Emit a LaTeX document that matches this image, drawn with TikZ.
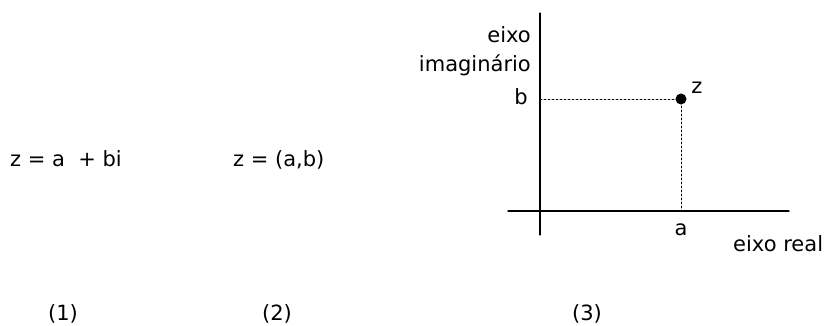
\documentclass[tikz,border=0pt]{standalone}
\usepackage{fontspec}
\setmainfont{DejaVu Sans}
\usetikzlibrary{arrows.meta}
\tikzset{
  every picture/.style={line join=round, line cap=round},
  eixo/.style={line width=1.3pt},
  guia/.style={line width=0.6pt, dash pattern=on 2pt off 2pt},
  rot/.style={font=\fontsize{21}{24}\selectfont, inner sep=0pt},
}

\begin{document}
\begin{tikzpicture}[x=1pt,y=-1pt]
\useasboundingbox (0,0) rectangle (829,326);
% plano complexo
\coordinate (ytop) at (540,13);
\coordinate (ybot) at (540,235);
\coordinate (xl) at (508,211);
\coordinate (xr) at (789,211);
\coordinate (z) at (681,99);
\coordinate (zb) at (540,99);
\coordinate (za) at (681,211);
\draw[eixo] (ybot)--(ytop);
\draw[eixo] (xl)--(xr);
\draw[guia] (zb)--(z)--(za);
\fill (z) circle (5.5pt);
\node[rot, anchor=base east] (b) at (528,105) {b};
\node[rot, anchor=base] (zl) at (697,94) {z};
\node[rot, anchor=base] (a) at (681,235) {a};
\node[rot, anchor=base west] (real) at (733,251) {eixo real};
\node[rot, anchor=base east] (eixo) at (531,43) {eixo};
\node[rot, anchor=base east] (imag) at (531,72) {imaginário};
% formas
\node[rot, anchor=base west] (alg) at (10,166) {z = a\ \ + bi};
\node[rot, anchor=base west] (par) at (233,166) {z = (a,b)};
\node[rot, anchor=base] (n1) at (63,320) {(1)};
\node[rot, anchor=base] (n2) at (277,320) {(2)};
\node[rot, anchor=base] (n3) at (587,320) {(3)};
\end{tikzpicture}
\end{document}
